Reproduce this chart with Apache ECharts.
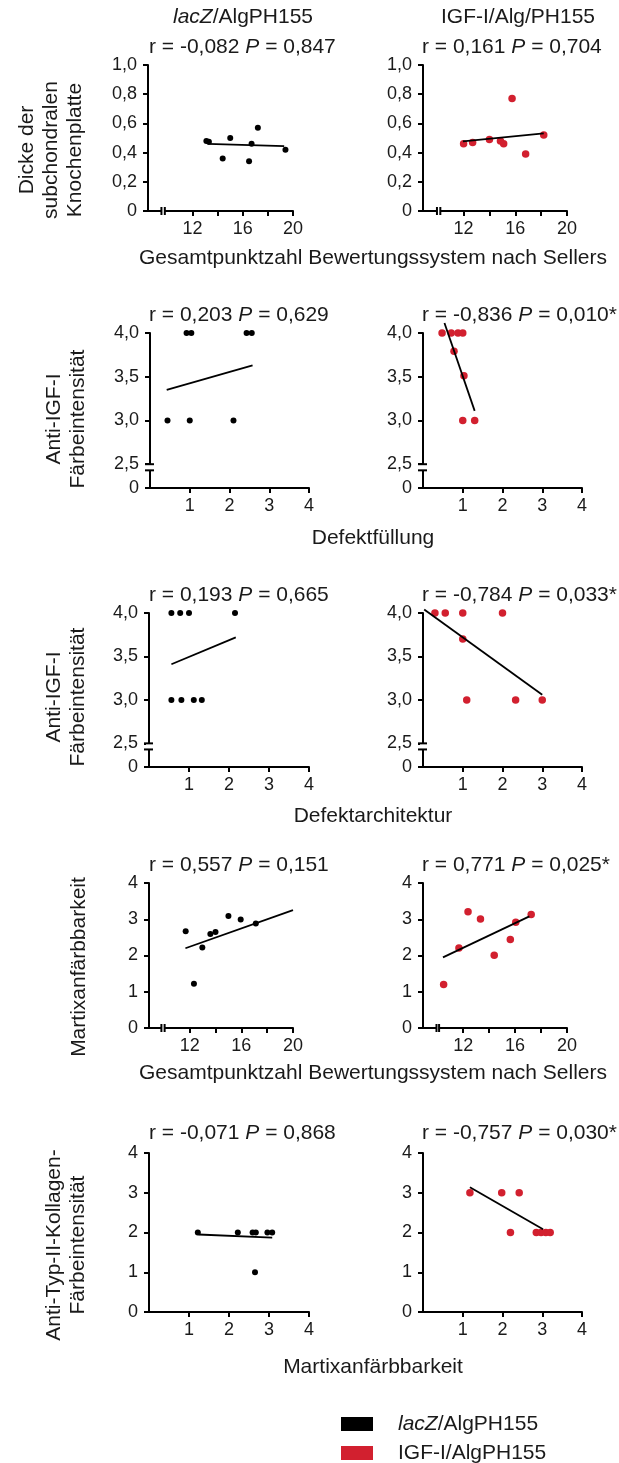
<!DOCTYPE html>
<html><head><meta charset="utf-8">
<script src="https://cdn.jsdelivr.net/npm/echarts@6/dist/echarts.min.js"></script>
<style>html,body{margin:0;padding:0;background:#fff}#c{width:619px;height:1463px}</style>
</head><body><div id="c"></div>
<script>
// ---------- data ----------
// Row 1: Sellers score vs. thickness of subchondral bone plate
const r1_sellers_lacZ = [13.1, 13.3, 15.0, 14.4, 16.5, 16.7, 17.2, 19.4];
const r1_dicke_lacZ   = [0.48, 0.475, 0.50, 0.36, 0.34, 0.46, 0.57, 0.42];
const r1_fit_lacZ     = [[13.2, 0.46], [19.3, 0.445]];
const r1_sellers_igf  = [12.0, 12.7, 14.0, 14.85, 15.1, 15.75, 16.8, 18.2];
const r1_dicke_igf    = [0.46, 0.47, 0.49, 0.48, 0.46, 0.77, 0.39, 0.52];
const r1_fit_igf      = [[11.95, 0.477], [18.2, 0.532]];
// Row 2: Defektfüllung vs. Anti-IGF-I staining
const r2_fill_lacZ = [0.44, 0.92, 1.04, 1.0, 2.1, 2.43, 2.56];
const r2_igf_lacZ  = [3.0, 4.0, 4.0, 3.0, 3.0, 4.0, 4.0];
const r2_fit_lacZ  = [[0.42, 3.35], [2.58, 3.63]];
const r2_fill_igf  = [0.48, 0.71, 0.88, 1.0, 0.78, 1.03, 1.0, 1.3];
const r2_igf_igf   = [4.0, 4.0, 4.0, 4.0, 3.79, 3.51, 3.0, 3.0];
const r2_fit_igf   = [[0.54, 4.115], [1.30, 3.11]];
// Row 3: Defektarchitektur vs. Anti-IGF-I staining
const r3_arch_lacZ = [0.56, 0.78, 1.0, 2.15, 0.56, 0.81, 1.12, 1.32];
const r3_igf_lacZ  = [4.0, 4.0, 4.0, 4.0, 3.0, 3.0, 3.0, 3.0];
const r3_fit_lacZ  = [[0.56, 3.41], [2.17, 3.72]];
const r3_arch_igf  = [0.3, 0.56, 1.0, 2.0, 1.0, 1.1, 2.33, 3.0];
const r3_igf_igf   = [4.0, 4.0, 4.0, 4.0, 3.70, 3.0, 3.0, 3.0];
const r3_fit_igf   = [[0.03, 4.04], [3.0, 3.06]];
// Row 4: Sellers score vs. matrix stainability
const r4_sellers_lacZ = [11.69, 12.33, 12.98, 13.6, 14.0, 15.0, 15.95, 17.12];
const r4_matrix_lacZ  = [2.67, 1.22, 2.22, 2.59, 2.65, 3.09, 2.99, 2.88];
const r4_fit_lacZ     = [[11.67, 2.20], [20.0, 3.25]];
const r4_sellers_igf  = [10.49, 11.67, 12.37, 13.33, 14.39, 15.63, 16.05, 17.24];
const r4_matrix_igf   = [1.2, 2.21, 3.21, 3.01, 2.01, 2.44, 2.92, 3.13];
const r4_fit_igf      = [[10.44, 1.95], [17.1, 3.08]];
// Row 5: matrix stainability vs. Anti-Typ-II-Kollagen staining
const r5_matrix_lacZ = [1.22, 2.22, 2.59, 2.67, 2.96, 3.08, 2.65];
const r5_koll_lacZ   = [2, 2, 2, 2, 2, 2, 1];
const r5_fit_lacZ    = [[1.24, 1.95], [3.08, 1.87]];
const r5_matrix_igf  = [1.18, 1.98, 2.42, 2.2, 2.85, 2.97, 3.09, 3.2];
const r5_koll_igf    = [3, 3, 3, 2, 2, 2, 2, 2];
const r5_fit_igf     = [[1.18, 3.14], [3.02, 2.08]];

// texts
const colHeaders = [['lacZ', '/AlgPH155'], ['', 'IGF-I/Alg/PH155']];
const panelStats = [
  ['-0,082', '0,847'], ['0,161', '0,704'],
  ['0,203', '0,629'], ['-0,836', '0,010*'],
  ['0,193', '0,665'], ['-0,784', '0,033*'],
  ['0,557', '0,151'], ['0,771', '0,025*'],
  ['-0,071', '0,868'], ['-0,757', '0,030*']
];
const xNames = ['Gesamtpunktzahl Bewertungssystem nach Sellers', 'Defektfüllung', 'Defektarchitektur',
  'Gesamtpunktzahl Bewertungssystem nach Sellers', 'Martixanfärbbarkeit'];
const yNames = ['Dicke der\nsubchondralen\nKnochenplatte', 'Anti-IGF-I\nFärbeintensität', 'Anti-IGF-I\nFärbeintensität',
  'Martixanfärbbarkeit', 'Anti-Typ-II-Kollagen-\nFärbeintensität'];
const legendNames = [['lacZ', '/AlgPH155'], ['', 'IGF-I/AlgPH155']];
const sellersTicks = [12, 14, 16, 18, 20];
const sellersLabels = [12, 16, 20];
const scoreTicks = [1, 2, 3, 4];
const igfTicks = [2.228, 2.5, 3.0, 3.5, 4.0];

// ---------- layout ----------
const FONT = '"Liberation Sans", Arial, sans-serif';
const BIG = 21;
const BLACK = '#000000', RED = '#d2202f', TXT = '#1a1a1a';
const zip = (a, b) => a.map((v, i) => [v, b[i]]);
const comma1 = v => v.toFixed(1).replace('.', ',');

const panels = [
  {g: [148, 65, 145, 146], x: {min: 8.45, max: 20, ticks: sellersTicks, labels: sellersLabels}, y: {min: 0, max: 1, interval: 0.2, fmt: v => v === 0 ? '0' : comma1(v)}, d: zip(r1_sellers_lacZ, r1_dicke_lacZ), fit: r1_fit_lacZ, c: BLACK, xb: [9.52, 9.79]},
  {g: [423, 65, 144, 146], x: {min: 8.86, max: 20, ticks: sellersTicks, labels: sellersLabels}, y: {min: 0, max: 1, interval: 0.2, fmt: v => v === 0 ? '0' : comma1(v)}, d: zip(r1_sellers_igf, r1_dicke_igf), fit: r1_fit_igf, c: RED, xb: [9.94, 10.2]},
  {g: [150, 333, 159, 155], x: {min: 0, max: 4, ticks: scoreTicks, labels: scoreTicks}, y: {min: 2.228, max: 4, custom: igfTicks, fmt: v => v < 2.4 ? '0' : comma1(v)}, d: zip(r2_fill_lacZ, r2_igf_lacZ), fit: r2_fit_lacZ, c: BLACK, yb: [2.43, 2.5]},
  {g: [423, 333, 159, 155], x: {min: 0, max: 4, ticks: scoreTicks, labels: scoreTicks}, y: {min: 2.228, max: 4, custom: igfTicks, fmt: v => v < 2.4 ? '0' : comma1(v)}, d: zip(r2_fill_igf, r2_igf_igf), fit: r2_fit_igf, c: RED, yb: [2.43, 2.5]},
  {g: [149, 613, 160, 154], x: {min: 0, max: 4, ticks: scoreTicks, labels: scoreTicks}, y: {min: 2.228, max: 4, custom: igfTicks, fmt: v => v < 2.4 ? '0' : comma1(v)}, d: zip(r3_arch_lacZ, r3_igf_lacZ), fit: r3_fit_lacZ, c: BLACK, yb: [2.43, 2.5]},
  {g: [423, 613, 159, 154], x: {min: 0, max: 4, ticks: scoreTicks, labels: scoreTicks}, y: {min: 2.228, max: 4, custom: igfTicks, fmt: v => v < 2.4 ? '0' : comma1(v)}, d: zip(r3_arch_igf, r3_igf_igf), fit: r3_fit_igf, c: RED, yb: [2.43, 2.5]},
  {g: [149, 883, 144, 145], x: {min: 8.85, max: 20, ticks: sellersTicks, labels: sellersLabels}, y: {min: 0, max: 4, interval: 1, fmt: v => String(v)}, d: zip(r4_sellers_lacZ, r4_matrix_lacZ), fit: r4_fit_lacZ, c: BLACK, xb: [9.81, 10.06]},
  {g: [423, 883, 144, 145], x: {min: 8.9, max: 20, ticks: sellersTicks, labels: sellersLabels}, y: {min: 0, max: 4, interval: 1, fmt: v => String(v)}, d: zip(r4_sellers_igf, r4_matrix_igf), fit: r4_fit_igf, c: RED, xb: [9.94, 10.14]},
  {g: [149, 1153, 160, 159], x: {min: 0, max: 4, ticks: scoreTicks, labels: scoreTicks}, y: {min: 0, max: 4, interval: 1, fmt: v => String(v)}, d: zip(r5_matrix_lacZ, r5_koll_lacZ), fit: r5_fit_lacZ, c: BLACK},
  {g: [423, 1153, 159, 159], x: {min: 0, max: 4, ticks: scoreTicks, labels: scoreTicks}, y: {min: 0, max: 4, interval: 1, fmt: v => String(v)}, d: zip(r5_matrix_igf, r5_koll_igf), fit: r5_fit_igf, c: RED}
];

const axisLine = {show: true, onZero: false, lineStyle: {color: '#000', width: 2}};
const grids = [], xAxes = [], yAxes = [], series = [];
panels.forEach((p, i) => {
  grids.push({left: p.g[0], top: p.g[1], width: p.g[2], height: p.g[3], containLabel: false});
  xAxes.push({
    type: 'value', gridIndex: i, min: p.x.min, max: p.x.max,
    axisLine: axisLine, splitLine: {show: false},
    axisTick: {show: true, inside: false, length: 5, lineStyle: {color: '#000', width: 2}, customValues: p.x.ticks},
    axisLabel: {show: true, customValues: p.x.labels, fontSize: 18, fontFamily: FONT, color: TXT, margin: 9}
  });
  const ya = {
    type: 'value', gridIndex: i, min: p.y.min, max: p.y.max,
    axisLine: axisLine, splitLine: {show: false},
    axisTick: {show: true, inside: false, length: 5, lineStyle: {color: '#000', width: 2}},
    axisLabel: {show: true, fontSize: 18, fontFamily: FONT, color: TXT, margin: 11, formatter: p.y.fmt}
  };
  if (p.y.interval) ya.interval = p.y.interval;
  if (p.y.custom) { ya.axisTick.customValues = p.y.custom; ya.axisLabel.customValues = p.y.custom; }
  yAxes.push(ya);
  series.push({
    type: 'scatter', xAxisIndex: i, yAxisIndex: i, data: p.d,
    symbolSize: p.c === RED ? 7.5 : 6, itemStyle: {color: p.c, opacity: 1}, z: 3, silent: true
  });
  series.push({
    type: 'line', xAxisIndex: i, yAxisIndex: i, data: p.fit, clip: false,
    showSymbol: false, symbol: 'none', lineStyle: {color: '#000', width: 1.8}, z: 4, silent: true
  });
  if (p.xb || p.yb) {
    series.push({
      type: 'custom', xAxisIndex: i, yAxisIndex: i, data: [[p.x.min, p.y.min]], z: 5, silent: true,
      renderItem: function (params, api) {
        if (p.xb) {
          const a = api.coord([p.xb[0], p.y.min]), b = api.coord([p.xb[1], p.y.min]);
          return {type: 'group', children: [
            {type: 'rect', shape: {x: a[0], y: a[1] - 3, width: b[0] - a[0], height: 6}, style: {fill: '#fff'}},
            {type: 'line', shape: {x1: a[0], y1: a[1] - 4, x2: a[0], y2: a[1] + 4}, style: {stroke: '#000', lineWidth: 2}},
            {type: 'line', shape: {x1: b[0], y1: b[1] - 4, x2: b[0], y2: b[1] + 4}, style: {stroke: '#000', lineWidth: 2}}
          ]};
        }
        const a = api.coord([p.x.min, p.yb[0]]), b = api.coord([p.x.min, p.yb[1]]);
        return {type: 'group', children: [
          {type: 'rect', shape: {x: a[0] - 3, y: b[1], width: 6, height: a[1] - b[1]}, style: {fill: '#fff'}},
          {type: 'line', shape: {x1: a[0] - 5, y1: a[1], x2: a[0] + 4, y2: a[1]}, style: {stroke: '#000', lineWidth: 2}},
          {type: 'line', shape: {x1: b[0] - 5, y1: b[1], x2: b[0] + 4, y2: b[1]}, style: {stroke: '#000', lineWidth: 2}}
        ]};
      }
    });
  }
});

// ---------- free texts ----------
const rich = {
  n: {fontSize: BIG, fontFamily: FONT, fill: TXT},
  i: {fontSize: BIG, fontFamily: FONT, fill: TXT, fontStyle: 'italic'}
};
const gfx = [];
function richText(parts, x, y, align) {
  const t = (parts[0] ? '{i|' + parts[0] + '}' : '') + '{n|' + parts[1] + '}';
  gfx.push({type: 'text', x: x, y: y, silent: true, style: {text: t, rich: rich, align: align, verticalAlign: 'middle'}});
}
richText(colHeaders[0], 243, 17, 'center');
richText(colHeaders[1], 518, 17, 'center');

const titleY = [47, 315, 595, 865, 1133];
panelStats.forEach((s, i) => {
  const row = Math.floor(i / 2), col = i % 2;
  gfx.push({type: 'text', x: col === 0 ? 149 : 422, y: titleY[row], silent: true,
    style: {text: '{n|r = ' + s[0] + ' }{i|P}{n| = ' + s[1] + '}', rich: rich, align: 'left', verticalAlign: 'middle'}});
});
const xNameY = [258, 538, 816, 1073, 1367];
xNames.forEach((t, i) => {
  gfx.push({type: 'text', x: 373, y: xNameY[i], silent: true,
    style: {text: t, fontSize: BIG, fontFamily: FONT, fill: TXT, align: 'center', verticalAlign: 'middle'}});
});
const yNamePos = [[51, 150], [66, 419], [66, 697], [79, 967], [66, 1245]];
yNames.forEach((t, i) => {
  gfx.push({type: 'text', x: yNamePos[i][0], y: yNamePos[i][1], rotation: Math.PI / 2, silent: true,
    style: {text: t, fontSize: BIG, fontFamily: FONT, fill: TXT, align: 'center', verticalAlign: 'middle', lineHeight: 24}});
});
// legend
gfx.push({type: 'rect', shape: {x: 341, y: 1417, width: 32, height: 14}, style: {fill: BLACK}, silent: true});
gfx.push({type: 'rect', shape: {x: 341, y: 1446, width: 32, height: 14}, style: {fill: RED}, silent: true});
richText(legendNames[0], 398, 1424, 'left');
richText(legendNames[1], 398, 1453, 'left');

const chart = echarts.init(document.getElementById('c'), null, {renderer: 'canvas'});
chart.setOption({
  animation: false,
  backgroundColor: '#fff',
  grid: grids, xAxis: xAxes, yAxis: yAxes, series: series,
  graphic: {elements: gfx}
});
</script></body></html>
